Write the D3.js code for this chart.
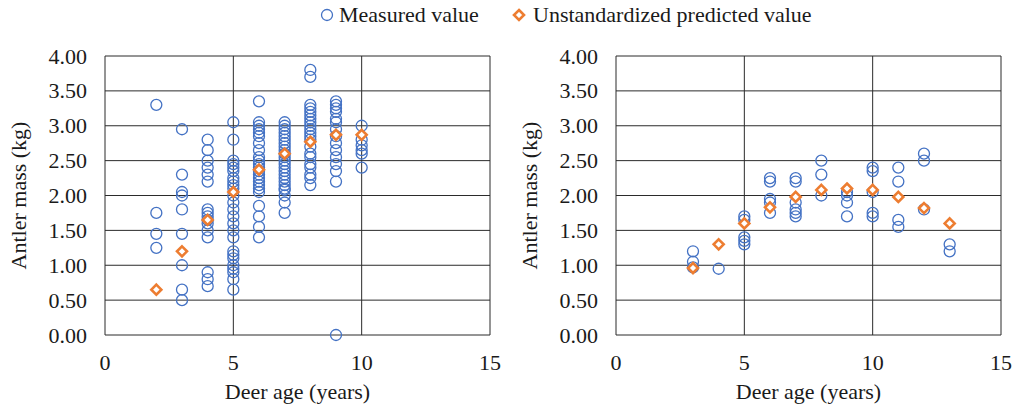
<!DOCTYPE html>
<html>
<head>
<meta charset="utf-8">
<script src="https://cdn.jsdelivr.net/npm/d3@7/dist/d3.min.js"></script>
<style>
  body { margin: 0; background: #fff; }
  svg { display: block; }
  svg text { font-family: "Liberation Serif", "DejaVu Serif", serif; }
</style>
</head>
<body>
<svg id="chart" width="1019" height="407"></svg>
<script>
// ---- data: [age, antler mass] ----
const leftMeasured = [
  [2, 3.30], [2, 1.75], [2, 1.45], [2, 1.25],
  [3, 2.95], [3, 2.30], [3, 2.05], [3, 2.00], [3, 1.80], [3, 1.45], [3, 1.00], [3, 0.65], [3, 0.50],
  [4, 2.80], [4, 2.65], [4, 2.50], [4, 2.40], [4, 2.30], [4, 2.20], [4, 1.80], [4, 1.75], [4, 1.70],
  [4, 1.65], [4, 1.60], [4, 1.50], [4, 1.40], [4, 0.90], [4, 0.80], [4, 0.70],
  [5, 3.05], [5, 2.80], [5, 2.50], [5, 2.45], [5, 2.40], [5, 2.35], [5, 2.25], [5, 2.20], [5, 2.15],
  [5, 2.10], [5, 2.00], [5, 1.90], [5, 1.80], [5, 1.70], [5, 1.60], [5, 1.50], [5, 1.40], [5, 1.20],
  [5, 1.15], [5, 1.10], [5, 1.00], [5, 0.95], [5, 0.90], [5, 0.80], [5, 0.65],
  [6, 3.35], [6, 3.05], [6, 3.00], [6, 2.95], [6, 2.90], [6, 2.85], [6, 2.75], [6, 2.65], [6, 2.55],
  [6, 2.50], [6, 2.45], [6, 2.40], [6, 2.35], [6, 2.30], [6, 2.25], [6, 2.20], [6, 2.15], [6, 2.10],
  [6, 2.05], [6, 1.85], [6, 1.70], [6, 1.55], [6, 1.40],
  [7, 3.05], [7, 3.00], [7, 2.95], [7, 2.90], [7, 2.85], [7, 2.80], [7, 2.75], [7, 2.70], [7, 2.65],
  [7, 2.60], [7, 2.55], [7, 2.50], [7, 2.45], [7, 2.40], [7, 2.35], [7, 2.30], [7, 2.25], [7, 2.20],
  [7, 2.15], [7, 2.10], [7, 2.08], [7, 2.00], [7, 1.90], [7, 1.75],
  [8, 3.80], [8, 3.70], [8, 3.30], [8, 3.25], [8, 3.20], [8, 3.15], [8, 3.10], [8, 3.05], [8, 3.00],
  [8, 2.95], [8, 2.90], [8, 2.85], [8, 2.80], [8, 2.70], [8, 2.60], [8, 2.55], [8, 2.45], [8, 2.40],
  [8, 2.30], [8, 2.25], [8, 2.15],
  [9, 3.35], [9, 3.30], [9, 3.25], [9, 3.20], [9, 3.10], [9, 3.05], [9, 2.95], [9, 2.85], [9, 2.75],
  [9, 2.65], [9, 2.55], [9, 2.45], [9, 2.35], [9, 2.20], [9, 0.00],
  [10, 3.00], [10, 2.80], [10, 2.72], [10, 2.65], [10, 2.60], [10, 2.40]
];
const leftPredicted = [
  [2, 0.65], [3, 1.20], [4, 1.65], [5, 2.05], [6, 2.37], [7, 2.60], [8, 2.77], [9, 2.87], [10, 2.87]
];
const rightMeasured = [
  [3, 1.20], [3, 1.05], [3, 0.97],
  [4, 0.95],
  [5, 1.70], [5, 1.65], [5, 1.40], [5, 1.35], [5, 1.30],
  [6, 2.25], [6, 2.20], [6, 1.95], [6, 1.90], [6, 1.75],
  [7, 2.25], [7, 2.20], [7, 1.90], [7, 1.80], [7, 1.75], [7, 1.70],
  [8, 2.50], [8, 2.30], [8, 2.00],
  [9, 2.05], [9, 2.00], [9, 1.90], [9, 1.70],
  [10, 2.40], [10, 2.35], [10, 2.05], [10, 1.75], [10, 1.70],
  [11, 2.40], [11, 2.20], [11, 1.65], [11, 1.55],
  [12, 2.60], [12, 2.50], [12, 1.80],
  [13, 1.30], [13, 1.20]
];
const rightPredicted = [
  [3, 0.96], [4, 1.30], [5, 1.60], [6, 1.83], [7, 1.98], [8, 2.08], [9, 2.10], [10, 2.08],
  [11, 1.98], [12, 1.82], [13, 1.60]
];
const xTicks = [0, 5, 10, 15];
const yTicks = [0, 0.5, 1, 1.5, 2, 2.5, 3, 3.5, 4];
const xLabel = "Deer age (years)";
const yLabel = "Antler mass (kg)";
const legendLabels = ["Measured value", "Unstandardized predicted value"];

const BLUE = "#4472C4";
const ORANGE = "#ED7D31";
const GRID = "#2b2b2b";
const TEXT = "#1a1a1a";
const FONT = "Liberation Serif, DejaVu Serif, serif";
const FS = 22;
const DIAMOND = "M0,-5L5,0L0,5L-5,0Z";

const svg = d3.select("#chart");

// ---- one panel ----
function drawPanel(left, measured, predicted) {
  const x = d3.scaleLinear().domain([0, 15]).range([left, left + 385]);
  const y = d3.scaleLinear().domain([0, 4]).range([335, 56]);
  const g = svg.append("g").attr("font-family", FONT);

  // horizontal grid
  g.selectAll("line.h").data(yTicks).enter().append("line")
    .attr("x1", x(0)).attr("x2", x(15))
    .attr("y1", d => y(d)).attr("y2", d => y(d))
    .attr("stroke", GRID).attr("stroke-width", 1);
  // vertical grid
  g.selectAll("line.v").data(xTicks).enter().append("line")
    .attr("x1", d => x(d)).attr("x2", d => x(d))
    .attr("y1", y(0)).attr("y2", y(4))
    .attr("stroke", GRID).attr("stroke-width", 1);

  // tick labels
  g.selectAll("text.yt").data(yTicks).enter().append("text")
    .attr("x", x(0) - 18).attr("y", d => y(d) + 7.5)
    .attr("text-anchor", "end").attr("font-size", FS).attr("fill", TEXT)
    .text(d => d.toFixed(2));
  g.selectAll("text.xt").data(xTicks).enter().append("text")
    .attr("x", d => x(d)).attr("y", 370)
    .attr("text-anchor", "middle").attr("font-size", FS).attr("fill", TEXT)
    .text(d => d);

  // axis titles
  g.append("text")
    .attr("x", (x(0) + x(15)) / 2).attr("y", 399)
    .attr("text-anchor", "middle").attr("font-size", FS).attr("fill", TEXT)
    .text(xLabel);
  g.append("text")
    .attr("transform", `translate(${x(0) - 79},${(y(0) + y(4)) / 2}) rotate(-90)`)
    .attr("text-anchor", "middle").attr("font-size", FS).attr("fill", TEXT)
    .text(yLabel);

  // measured circles
  g.selectAll("circle.m").data(measured).enter().append("circle")
    .attr("cx", d => x(d[0])).attr("cy", d => y(d[1]))
    .attr("r", 5.5)
    .attr("fill", "none").attr("stroke", BLUE).attr("stroke-width", 1.3);

  // predicted diamonds
  g.selectAll("path.p").data(predicted).enter().append("path")
    .attr("d", DIAMOND)
    .attr("transform", d => `translate(${x(d[0])},${y(d[1])})`)
    .attr("fill", "#fff").attr("stroke", ORANGE).attr("stroke-width", 2.6);
}

drawPanel(105, leftMeasured, leftPredicted);
drawPanel(616, rightMeasured, rightPredicted);

// ---- legend ----
const legend = svg.append("g").attr("font-family", FONT);
legend.append("circle").attr("cx", 327).attr("cy", 15).attr("r", 5.5)
  .attr("fill", "none").attr("stroke", BLUE).attr("stroke-width", 1.3);
legend.append("text").attr("x", 339).attr("y", 22).attr("font-size", FS).attr("fill", TEXT)
  .text(legendLabels[0]);
legend.append("path").attr("d", DIAMOND)
  .attr("transform", "translate(519,15)")
  .attr("fill", "#fff").attr("stroke", ORANGE).attr("stroke-width", 2.6);
legend.append("text").attr("x", 533).attr("y", 22).attr("font-size", FS).attr("fill", TEXT)
  .text(legendLabels[1]);
</script>
</body>
</html>
